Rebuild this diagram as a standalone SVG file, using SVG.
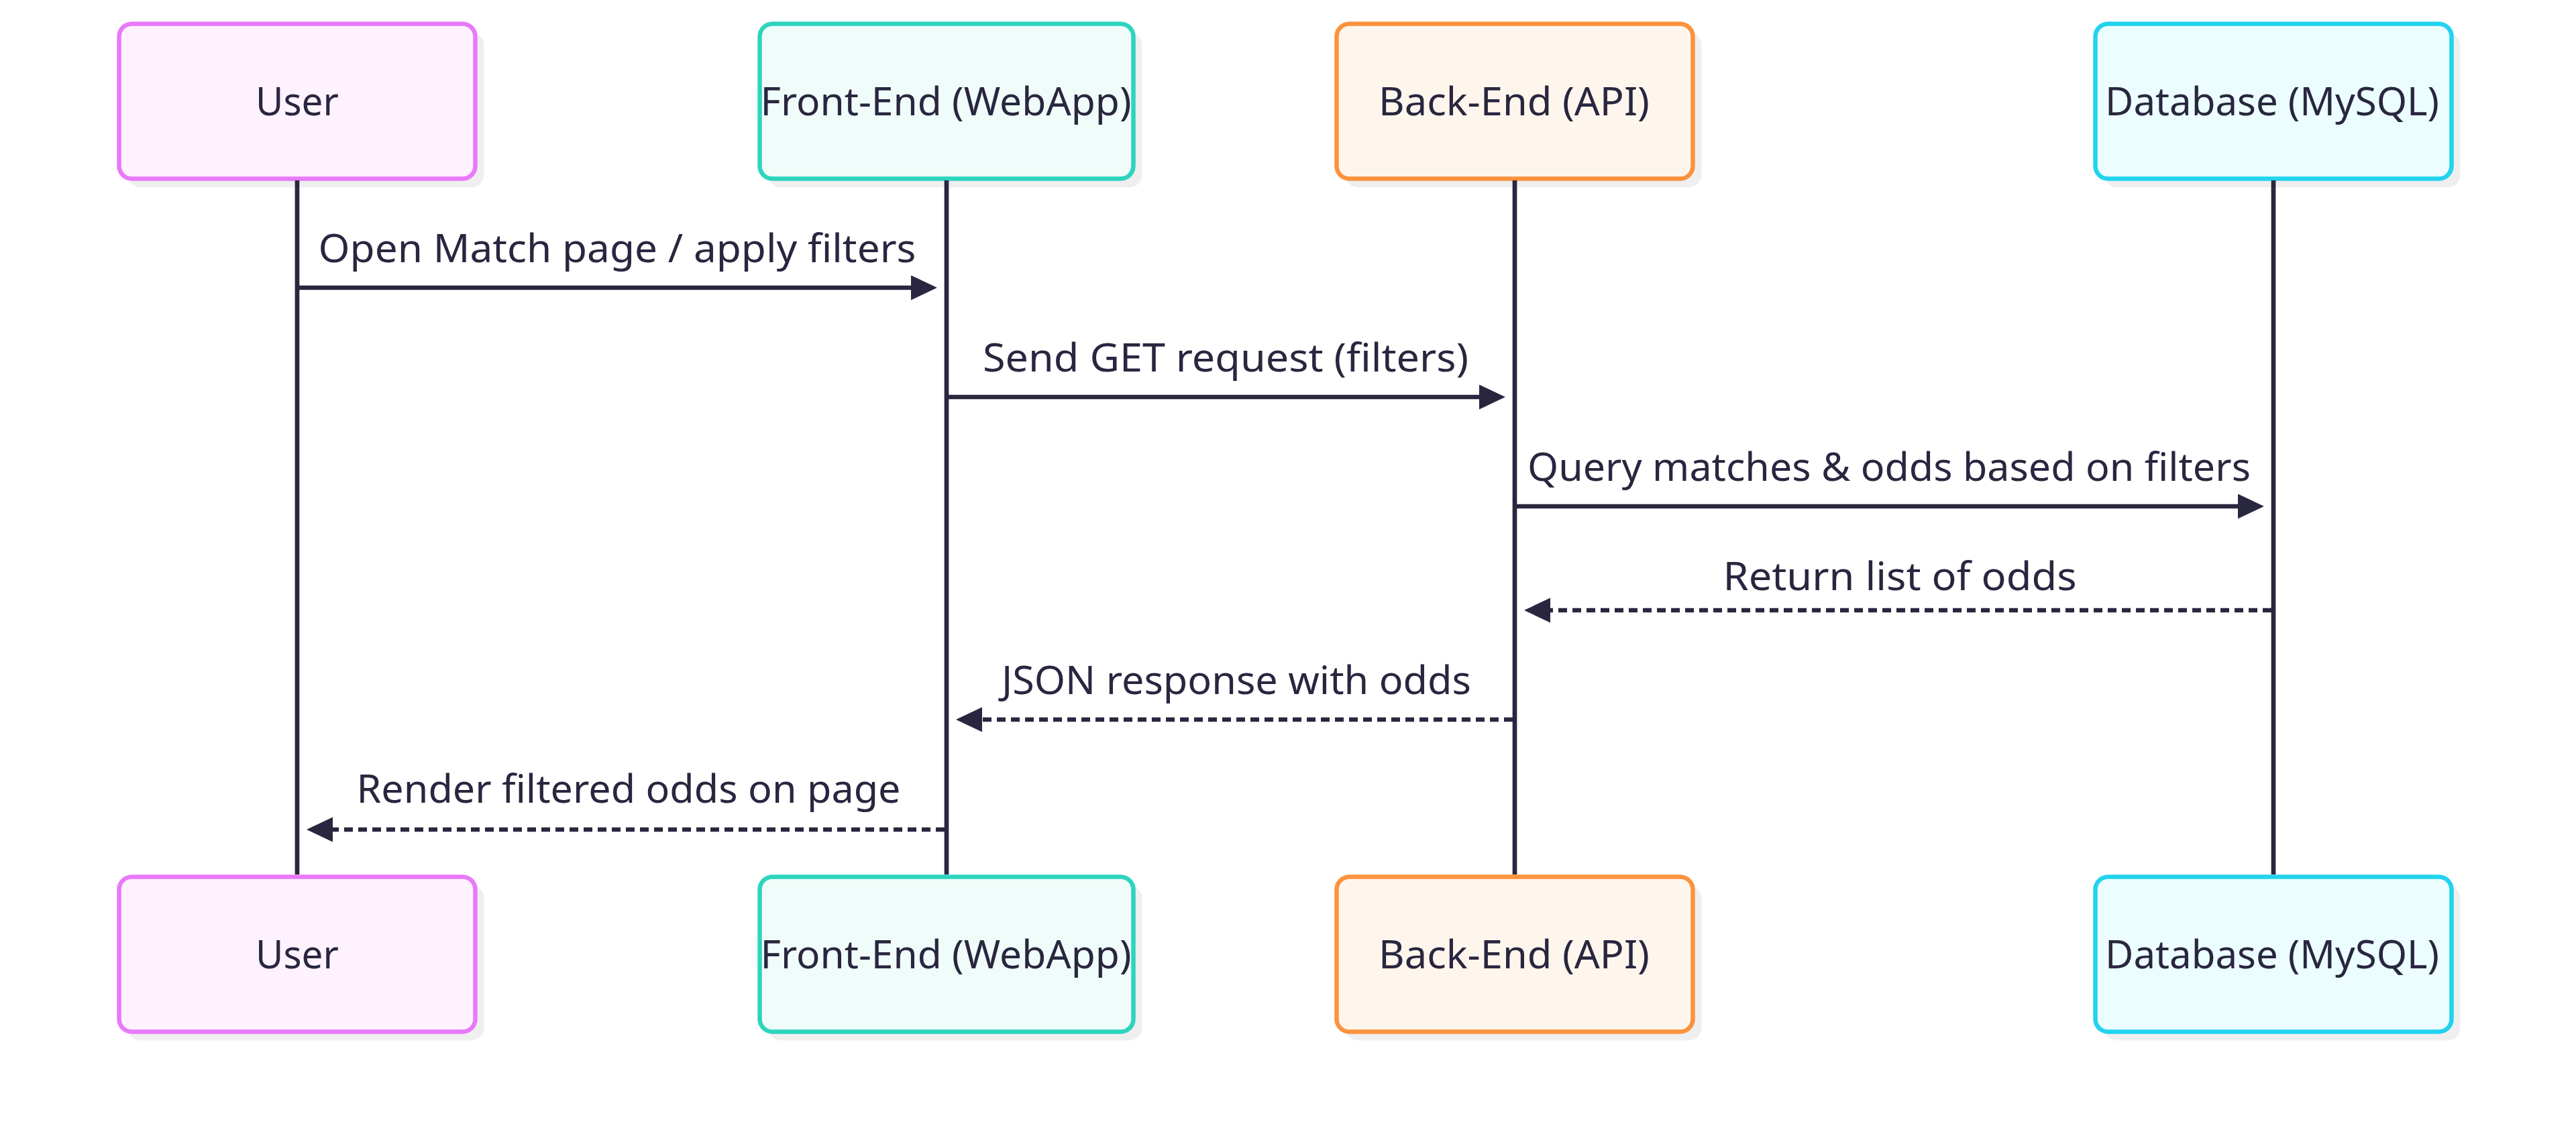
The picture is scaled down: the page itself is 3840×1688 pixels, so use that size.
<svg xmlns="http://www.w3.org/2000/svg" width="3840" height="1688" viewBox="0 0 3840 1688">
  <style>
    .shadow { fill: #efefef; stroke: none; }
    .box { stroke-width: 6.5; }
    .user { fill: #fdf2fe; stroke: #e879f9; }
    .front { fill: #effcf9; stroke: #2dd4bf; }
    .back { fill: #fef6ed; stroke: #fb923c; }
    .db { fill: #ebfdfe; stroke: #22d3ee; }
    .lbl { font-family: "Noto Sans", "DejaVu Sans", sans-serif; font-size: 58px; fill: #29263f; text-anchor: middle; }
    .life { stroke: #29263f; stroke-width: 6.7; fill: none; }
    .msg { stroke: #29263f; stroke-width: 6.7; fill: none; marker-end: url(#head); }
    .dash { stroke-dasharray: 13 8; }
  </style>
  <defs>
    <marker id="head" markerUnits="userSpaceOnUse" markerWidth="40" markerHeight="38" refX="10" refY="18.5" orient="auto" viewBox="0 0 40 38">
      <path d="M0,0 L39,18.5 L0,37 Z" fill="#29263f"/>
    </marker>
  </defs>
  <rect width="3840" height="1688" fill="#ffffff"/>

  <g id="user-top">
    <rect class="shadow" x="190.5" y="48.5" width="531" height="231" rx="19"/>
    <rect class="box user" x="177.5" y="35.5" width="531" height="231" rx="19"/>
    <text class="lbl" x="443" y="172" textLength="124" lengthAdjust="spacingAndGlyphs">User</text>
  </g>
  <g id="frontend-top">
    <rect class="shadow" x="1145.5" y="48.5" width="557" height="231" rx="19"/>
    <rect class="box front" x="1132.5" y="35.5" width="557" height="231" rx="19"/>
    <text class="lbl" x="1410" y="172" textLength="553" lengthAdjust="spacingAndGlyphs">Front-End (WebApp)</text>
  </g>
  <g id="backend-top">
    <rect class="shadow" x="2005.5" y="48.5" width="531" height="231" rx="19"/>
    <rect class="box back" x="1992.5" y="35.5" width="531" height="231" rx="19"/>
    <text class="lbl" x="2257" y="172" textLength="404" lengthAdjust="spacingAndGlyphs">Back-End (API)</text>
  </g>
  <g id="database-top">
    <rect class="shadow" x="3136.5" y="48.5" width="531" height="231" rx="19"/>
    <rect class="box db" x="3123.5" y="35.5" width="531" height="231" rx="19"/>
    <text class="lbl" x="3387" y="172" textLength="498" lengthAdjust="spacingAndGlyphs">Database (MySQL)</text>
  </g>

  <g id="user-bottom">
    <rect class="shadow" x="190.5" y="1320.5" width="531" height="231" rx="19"/>
    <rect class="box user" x="177.5" y="1307.5" width="531" height="231" rx="19"/>
    <text class="lbl" x="443" y="1444" textLength="124" lengthAdjust="spacingAndGlyphs">User</text>
  </g>
  <g id="frontend-bottom">
    <rect class="shadow" x="1145.5" y="1320.5" width="557" height="231" rx="19"/>
    <rect class="box front" x="1132.5" y="1307.5" width="557" height="231" rx="19"/>
    <text class="lbl" x="1410" y="1444" textLength="553" lengthAdjust="spacingAndGlyphs">Front-End (WebApp)</text>
  </g>
  <g id="backend-bottom">
    <rect class="shadow" x="2005.5" y="1320.5" width="531" height="231" rx="19"/>
    <rect class="box back" x="1992.5" y="1307.5" width="531" height="231" rx="19"/>
    <text class="lbl" x="2257" y="1444" textLength="404" lengthAdjust="spacingAndGlyphs">Back-End (API)</text>
  </g>
  <g id="database-bottom">
    <rect class="shadow" x="3136.5" y="1320.5" width="531" height="231" rx="19"/>
    <rect class="box db" x="3123.5" y="1307.5" width="531" height="231" rx="19"/>
    <text class="lbl" x="3387" y="1444" textLength="498" lengthAdjust="spacingAndGlyphs">Database (MySQL)</text>
  </g>

  <g id="lifelines">
    <line class="life" x1="443" y1="269" x2="443" y2="1304"/>
    <line class="life" x1="1411" y1="269" x2="1411" y2="1304"/>
    <line class="life" x1="2258" y1="269" x2="2258" y2="1304"/>
    <line class="life" x1="3389" y1="269" x2="3389" y2="1304"/>
  </g>

  <g id="connectors">
    <line class="msg" x1="446" y1="429" x2="1368" y2="429"/>
    <text class="lbl" x="920" y="391" textLength="891" lengthAdjust="spacingAndGlyphs">Open Match page / apply filters</text>

    <line class="msg" x1="1414" y1="592" x2="2215" y2="592"/>
    <text class="lbl" x="1827" y="554" textLength="724" lengthAdjust="spacingAndGlyphs">Send GET request (filters)</text>

    <line class="msg" x1="2261" y1="755" x2="3346" y2="755"/>
    <text class="lbl" x="2816" y="717" textLength="1078" lengthAdjust="spacingAndGlyphs">Query matches &amp; odds based on filters</text>

    <line class="msg dash" x1="3386" y1="910" x2="2301" y2="910"/>
    <text class="lbl" x="2832" y="880" textLength="527" lengthAdjust="spacingAndGlyphs">Return list of odds</text>

    <line class="msg dash" x1="2255" y1="1073" x2="1454" y2="1073"/>
    <text class="lbl" x="1843" y="1035" textLength="700" lengthAdjust="spacingAndGlyphs">JSON response with odds</text>

    <line class="msg dash" x1="1408" y1="1237" x2="486" y2="1237"/>
    <text class="lbl" x="937" y="1197" textLength="811" lengthAdjust="spacingAndGlyphs">Render filtered odds on page</text>
  </g>
</svg>
